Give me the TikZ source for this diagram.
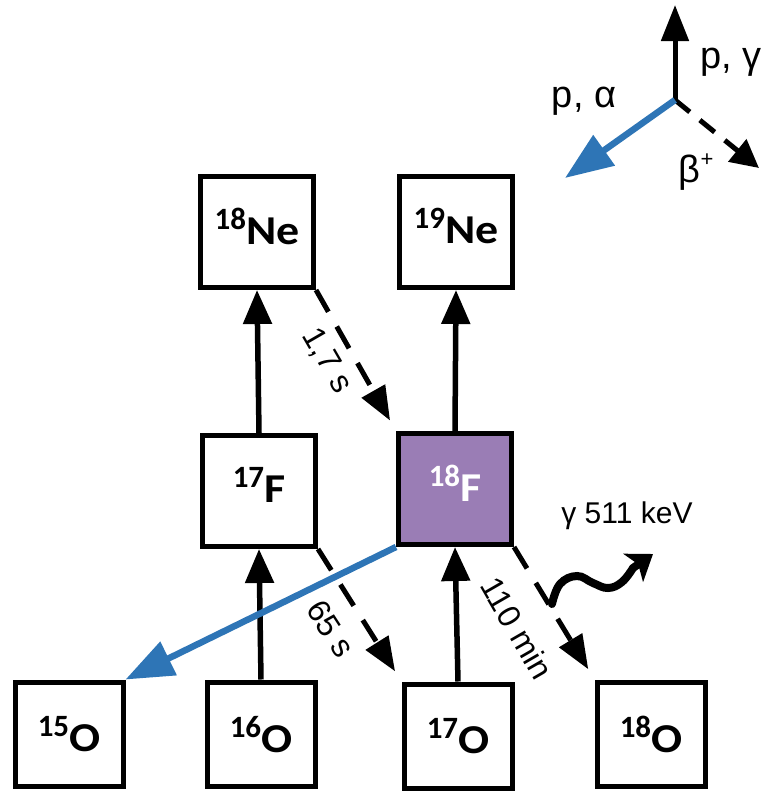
\documentclass[tikz,border=0pt]{standalone}
\usepackage{fontspec}
\setmainfont{Liberation Sans}
\newfontfamily\calib{Carlito}
\newfontfamily\calibw[FakeStretch=1.12]{Carlito}
\usetikzlibrary{arrows.meta,shadows}
\definecolor{fpurple}{RGB}{154,125,181}
\definecolor{pablue} {RGB}{46,117,182}

\newcommand{\iso}[2]{{\calib\bfseries\fontsize{31}{33}\selectfont\raisebox{15pt}{#1}}{\calibw\bfseries\fontsize{41}{44}\selectfont #2}}

\tikzset{
  nucl/.style={draw,line width=5pt,fill=white,inner sep=0pt,
    minimum width=113pt,minimum height=111pt,text depth=12pt,
    drop shadow={shadow xshift=2.5pt,shadow yshift=-2.5pt,opacity=.25}},
  nuclo/.style={nucl,minimum width=108pt,minimum height=104pt,text depth=0pt},
  capt/.style={line width=5.5pt,-{Triangle[length=34pt,width=28pt]}},
  decay/.style={line width=5pt,dash pattern=on 25pt off 17pt,
    -{Triangle[length=34pt,width=26pt]},shorten >=12pt},
  palpha/.style={pablue,line width=6.5pt,-{Triangle[length=48pt,width=36pt]}},
  hlbl/.style={font=\fontsize{32}{34}\selectfont,inner sep=0pt},
  lgtxt/.style={font=\fontsize{38}{40}\selectfont,inner sep=0pt}
}

\begin{document}
\begin{tikzpicture}[x=1pt,y=-1pt]
  \useasboundingbox (0,0) rectangle (766,793);

  % nuclei
  \node[nucl] (ne18) at (257,232) {\iso{18}{Ne}};
  \node[nucl] (ne19) at (456,232) {\iso{19}{Ne}};
  \node[nucl] (f17)  at (259,491) {\iso{17}{F}};
  \node[nucl,fill=fpurple,text=white] (f18) at (455,489) {\iso{18}{F}};
  \node[nuclo] (o15) at (69,734)  {\iso{15}{O}};
  \node[nuclo] (o16) at (261,734) {\iso{16}{O}};
  \node[nuclo] (o17) at (458,736) {\iso{17}{O}};
  \node[nuclo] (o18) at (651,734) {\iso{18}{O}};

  % capture
  \draw[capt] (o16.north) -- (f17.south);
  \draw[capt] (f17.north) -- (ne18.south);
  \draw[capt] (o17.north) -- (f18.south);
  \draw[capt] (f18.north) -- (ne19.south);

  % beta+ decays
  \draw[decay] (ne18.south east) -- (f18.north west);
  \draw[decay] (f17.south east) -- (o17.north west);
  \draw[decay] (f18.south east) -- (o18.north west);
  \node[hlbl,rotate=-60] (t17) at (327,361) {1,7 s};
  \node[hlbl,rotate=-57] (t65) at (331,629) {65 s};
  \node[hlbl,rotate=-60] (t110) at (517,628) {110 min};

  % (p,alpha)
  \draw[palpha] (f18.south west) -- (o15.north east);

  % annihilation photon
  \coordinate (wv0) at (552,604);
  \coordinate (wv1) at (653,554);
  \draw[line width=8pt,line cap=round,-{Stealth[length=24pt,width=34pt,inset=6pt]}]
    plot[smooth,tension=.7] coordinates {(wv0) (560,584) (577,576) (593,583)
      (608,588) (622,582) (633,568)} -- (wv1);
  \node[font=\fontsize{30}{32}\selectfont] (gam) at (627,516) {γ 511 keV};

  % legend
  \coordinate (lg)   at (675,100);
  \coordinate (lgup) at (675,5);
  \coordinate (lgpa) at (565,178);
  \coordinate (lgb)  at (759,168);
  \draw[line width=5pt,-{Triangle[length=36pt,width=27pt]}] (lg) -- (lgup);
  \draw[line width=5pt,dash pattern=on 19pt off 13pt,
    -{Triangle[length=28pt,width=28pt]}] (lg) -- (lgb);
  \draw[palpha] (lg) -- (lgpa);
  \node[lgtxt] (pg) at (731,62)  {p, γ};
  \node[lgtxt] (pa) at (584,101) {p, α};
  \node[lgtxt] (bp) at (696,172) {β\raisebox{16pt}{\fontsize{22}{24}\selectfont +}};
\end{tikzpicture}
\end{document}
